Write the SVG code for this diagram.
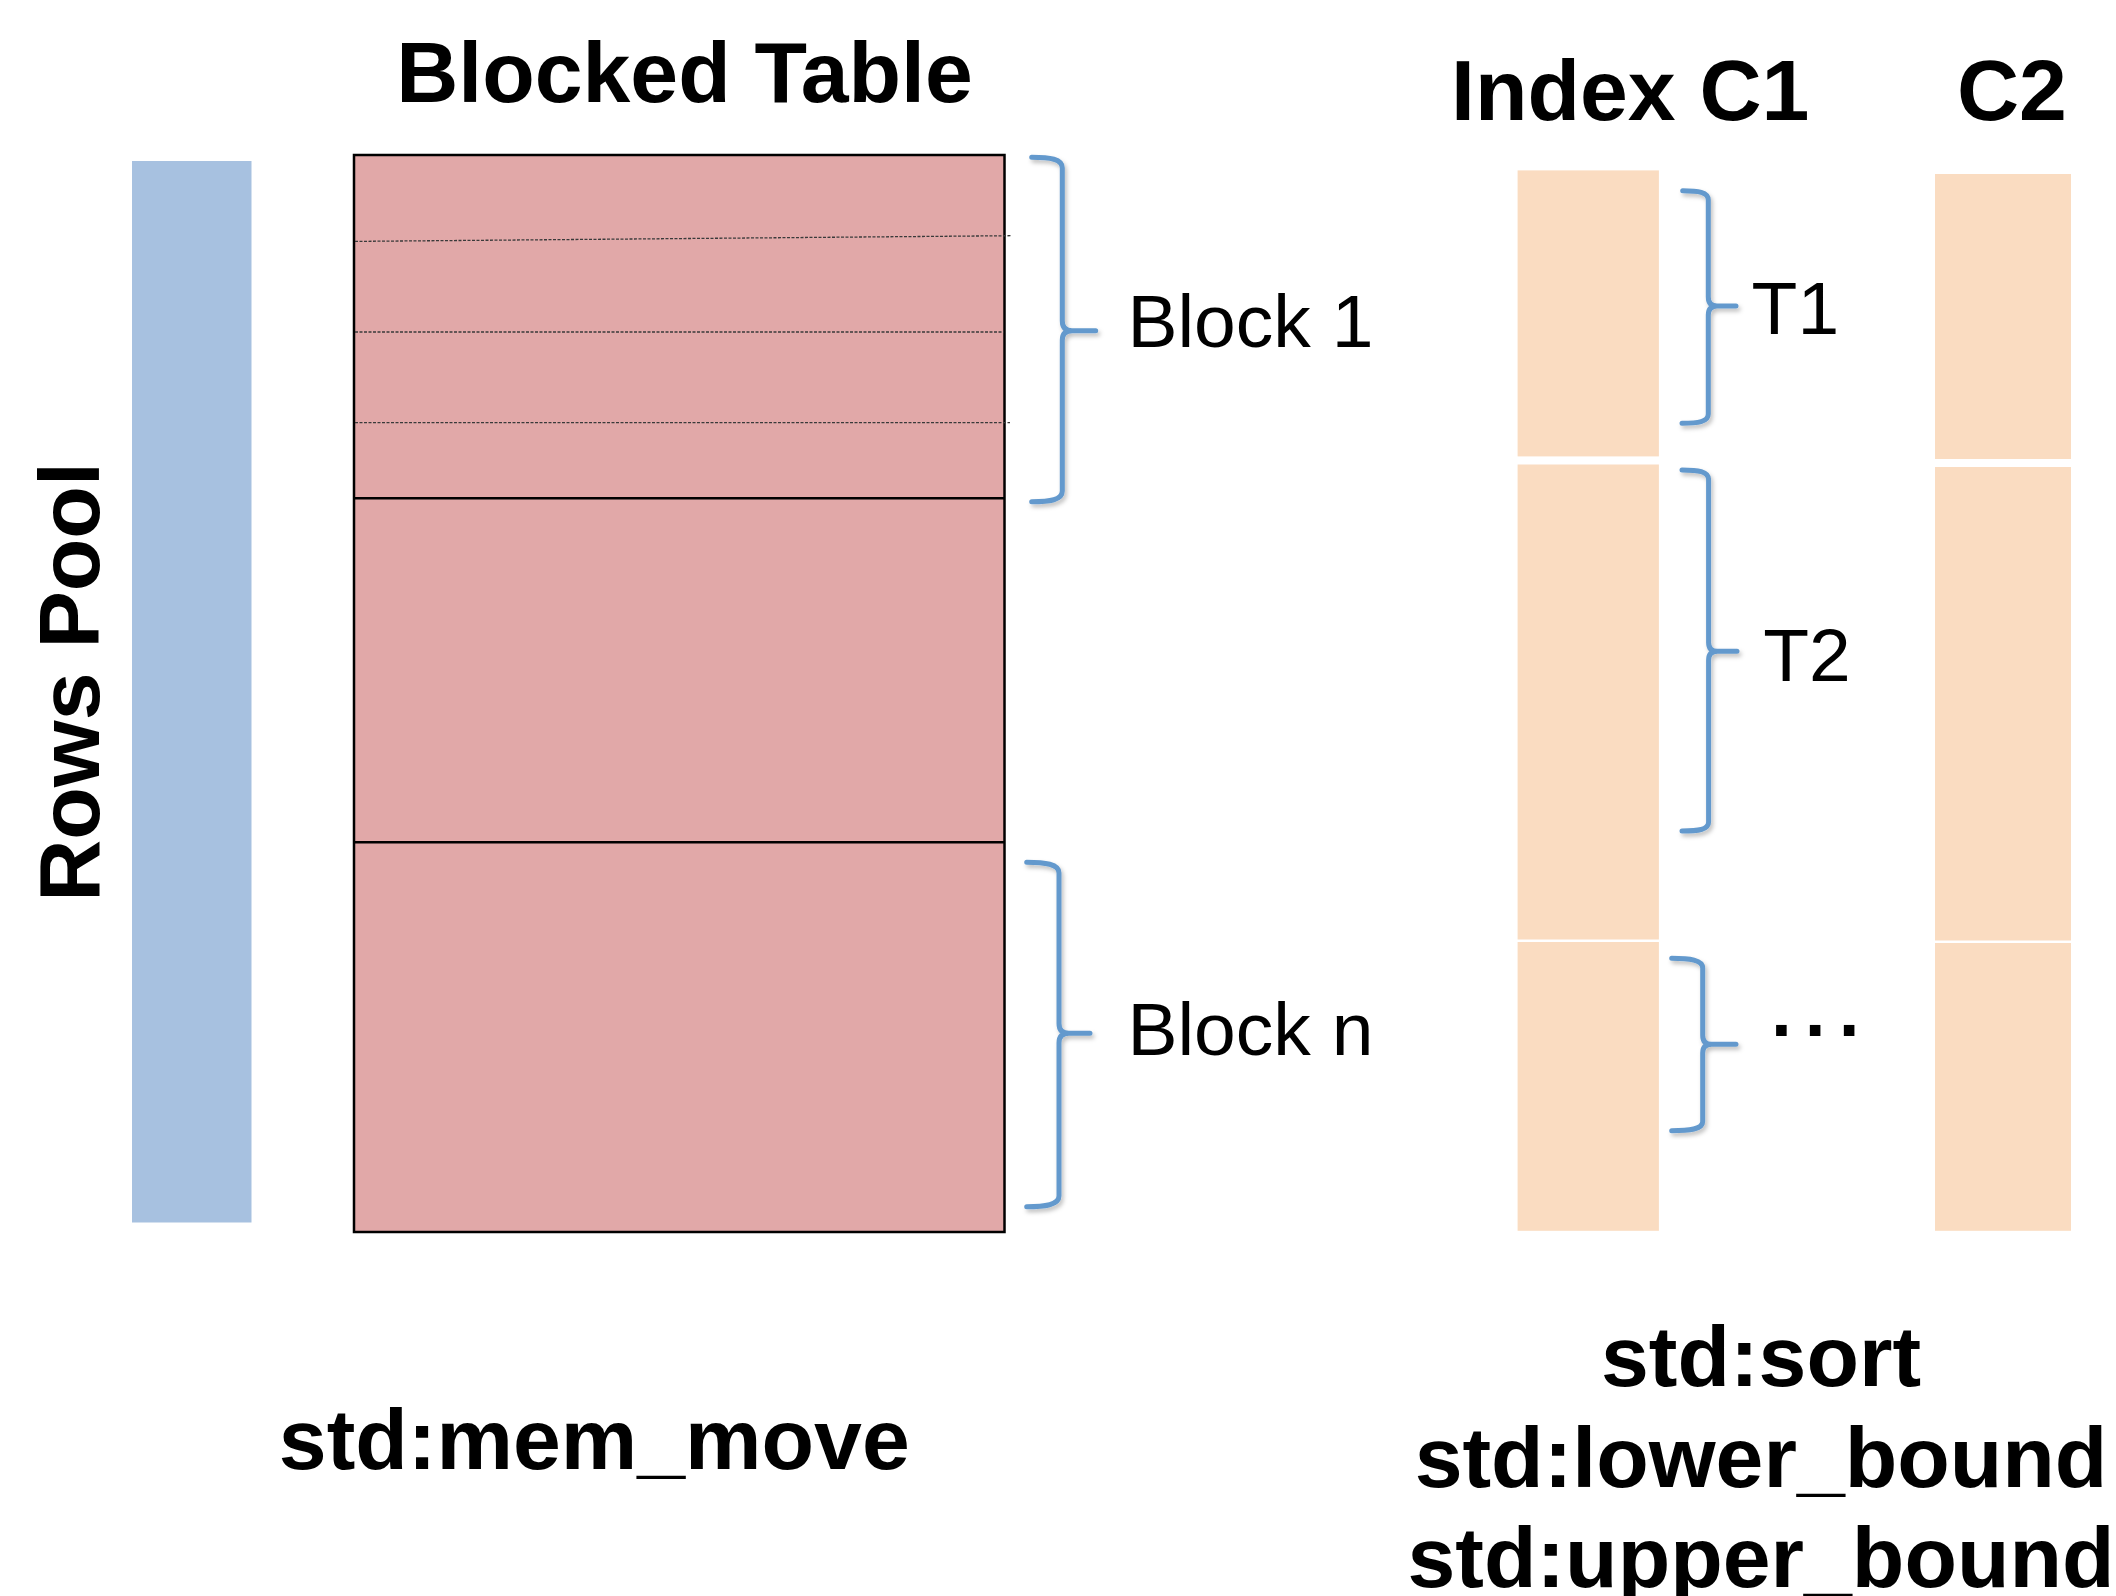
<svg xmlns="http://www.w3.org/2000/svg" width="2116" height="1596" viewBox="0 0 2116 1596">
  <style>
    .bold { font-family: "Liberation Sans", Arial, sans-serif; font-weight: bold; font-size: 86px; fill: #000; }
    .label { font-family: "Liberation Sans", Arial, sans-serif; font-size: 75px; fill: #000; }
    .pool { fill: #A7C1E0; }
    .tbl { fill: #E1A8A8; stroke: #000; stroke-width: 2.5; }
    .divider { stroke: #000; stroke-width: 2.5; fill: none; }
    .row { stroke: #3a3a3a; stroke-width: 1.3; stroke-dasharray: 3 1.5; fill: none; }
    .col { fill: #FADCC1; }
    .brace { fill: none; stroke: #6399CD; stroke-width: 5; stroke-linecap: round; stroke-linejoin: round; filter: url(#soft); }
  </style>
  <defs>
    <filter id="soft" x="-20%" y="-5%" width="140%" height="110%">
      <feDropShadow dx="2" dy="3" stdDeviation="2" flood-color="#000" flood-opacity="0.25"/>
    </filter>
  </defs>

  <rect width="2116" height="1596" fill="#fff"/>

  <!-- rows pool bar -->
  <g id="rows-pool">
    <rect class="pool" x="132" y="161" width="119.5" height="1061.5"/>
    <text class="bold" font-size="87" text-anchor="middle" transform="translate(99,682) rotate(-90)">Rows Pool</text>
  </g>

  <!-- blocked table -->
  <g id="blocked-table">
    <text class="bold" x="684.5" y="102" text-anchor="middle">Blocked Table</text>
    <rect class="tbl" x="354" y="155" width="650.5" height="1077"/>
    <line class="row" x1="355" y1="241.4" x2="1011.5" y2="235.7"/>
    <line class="row" x1="355" y1="332" x2="1004" y2="332"/>
    <line class="row" x1="355" y1="422.7" x2="1010" y2="422.7"/>
    <line class="divider" x1="354" y1="498.3" x2="1004.5" y2="498.3"/>
    <line class="divider" x1="354" y1="842.2" x2="1004.5" y2="842.2"/>
  </g>

  <!-- index column C1 -->
  <g id="index-c1">
    <text class="bold" font-size="85" x="1451" y="119.6">Index C1</text>
    <rect class="col" x="1517.6" y="170.4" width="141.3" height="286"/>
    <rect class="col" x="1517.6" y="464.5" width="141.3" height="475"/>
    <rect class="col" x="1517.6" y="942" width="141.3" height="288.8"/>
  </g>

  <!-- column C2 -->
  <g id="col-c2">
    <text class="bold" font-size="85" x="1957" y="119.6">C2</text>
    <rect class="col" x="1935" y="174" width="136" height="285"/>
    <rect class="col" x="1935" y="467" width="136" height="473.5"/>
    <rect class="col" x="1935" y="943" width="136" height="287.8"/>
  </g>

  <!-- braces -->
  <g id="braces">
    <path class="brace" d="M1031.7 157.3 C1050 157.3 1062.3 159 1062.3 168 L1062.3 321 Q1062.3 330.7 1072 330.7 L1095.7 330.7 M1072 330.7 Q1062.3 330.7 1062.3 340 L1062.3 491 C1062.3 500 1050 501.7 1031.7 501.7"/>
    <path class="brace" d="M1026.7 862.3 C1045 862.3 1059 864 1059 873 L1059 1023.5 Q1059 1033.3 1068.7 1033.3 L1090 1033.3 M1068.7 1033.3 Q1059 1033.3 1059 1043 L1059 1196 C1059 1205 1045 1206.7 1026.7 1206.7"/>
    <path class="brace" d="M1682.7 190.7 C1698 190.7 1708.3 192 1708.3 200 L1708.3 297 Q1708.3 306 1717 306 L1736 306 M1717 306 Q1708.3 306 1708.3 315 L1708.3 414 C1708.3 422 1698 423.2 1682 423.2"/>
    <path class="brace" d="M1682 470 C1698 470 1708.6 471.3 1708.6 479.5 L1708.6 642.5 Q1708.6 651.3 1717.3 651.3 L1737 651.3 M1717.3 651.3 Q1708.6 651.3 1708.6 660 L1708.6 822 C1708.6 830 1698 831 1682 831"/>
    <path class="brace" d="M1671.7 958.3 C1690 958.3 1702.7 960 1702.7 968 L1702.7 1035.5 Q1702.7 1044.3 1711.4 1044.3 L1736 1044.3 M1711.4 1044.3 Q1702.7 1044.3 1702.7 1053 L1702.7 1121.5 C1702.7 1129.5 1690 1130.7 1671.7 1130.7"/>
  </g>

  <!-- brace labels -->
  <g id="labels">
    <text class="label" x="1127.4" y="346.7">Block 1</text>
    <text class="label" x="1127.4" y="1055">Block n</text>
    <text class="label" x="1751.6" y="334">T1</text>
    <text class="label" x="1763.3" y="680.6">T2</text>
    <text class="label" font-weight="bold" font-size="68" letter-spacing="13" x="1771" y="1036">...</text>
  </g>

  <!-- operations -->
  <g id="ops-table">
    <text class="bold" x="594.3" y="1469.3" text-anchor="middle">std:mem_move</text>
  </g>
  <g id="ops-index">
    <text class="bold" font-size="85" x="1761" y="1386" text-anchor="middle">std:sort</text>
    <text class="bold" font-size="85" x="1761" y="1486.7" text-anchor="middle">std:lower_bound</text>
    <text class="bold" font-size="85" x="1761" y="1586.7" text-anchor="middle">std:upper_bound</text>
  </g>
</svg>
